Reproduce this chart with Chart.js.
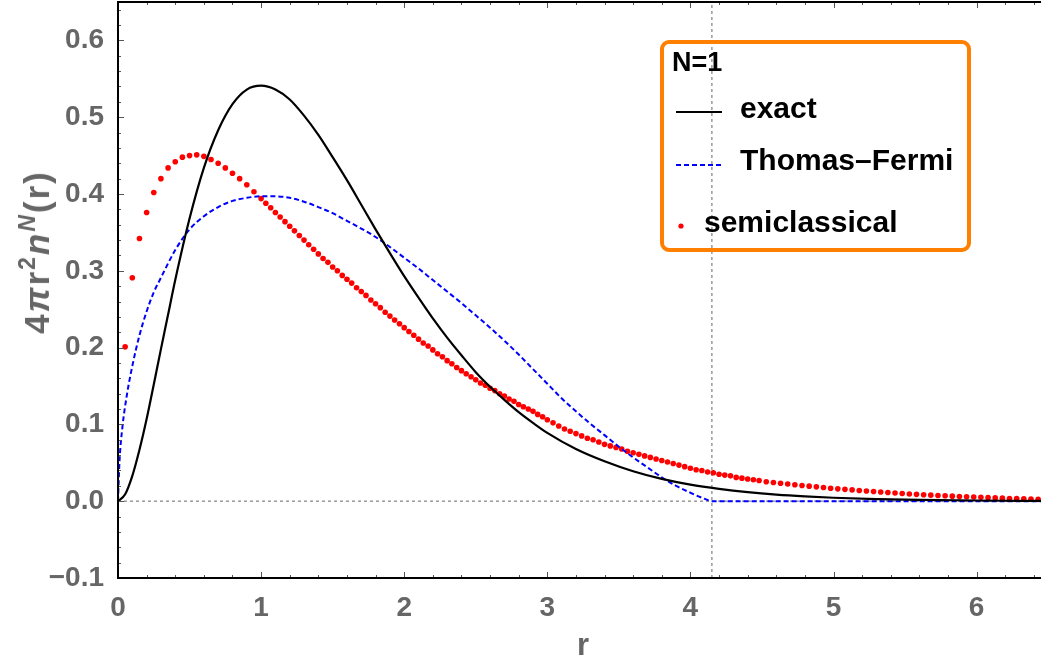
<!DOCTYPE html>
<html>
<head>
<meta charset="utf-8">
<script src="https://cdn.jsdelivr.net/npm/chart.js@4.4.1/dist/chart.umd.min.js"></script>
<style>
html,body{margin:0;padding:0;background:#fff;}
#wrap{position:relative;width:1041px;height:659px;overflow:hidden;font-family:"Liberation Sans",Arial,sans-serif;}
#c{position:absolute;left:0;top:0;}
.ytitle{position:absolute;left:35px;top:252px;transform:translate(-50%,-50%) rotate(-90deg);font-weight:bold;font-size:35px;color:#666;white-space:nowrap;line-height:1;letter-spacing:2px;}
.ytitle sup{font-size:23px;vertical-align:14px;}
.xtitle{position:absolute;left:583px;top:629px;transform:translateX(-50%);font-weight:bold;font-size:31px;color:#666;line-height:1;}
.lgbox{position:absolute;left:660px;top:40px;width:311px;height:212px;box-sizing:border-box;border:4px solid #ff8000;border-radius:9px;}
.lt{position:absolute;font-weight:bold;color:#000;white-space:nowrap;line-height:1;}
svg.sym{position:absolute;}
</style>
</head>
<body>
<div id="wrap">
<canvas id="c" width="1041" height="659"></canvas>
<div class="ytitle">4<i>π</i>r<sup>2</sup><i>n</i><sup><i>N</i></sup>(r)</div>
<div class="xtitle">r</div>
<div class="lgbox"></div>
<div class="lt" style="left:672px;top:49px;font-size:27px;">N=1</div>
<svg class="sym" style="left:676px;top:108px" width="48" height="8"><line x1="0" y1="4" x2="46" y2="4" stroke="#000" stroke-width="2"/></svg>
<div class="lt" style="left:740px;top:93px;font-size:30px;">exact</div>
<svg class="sym" style="left:676px;top:161px" width="48" height="8"><line x1="0" y1="4" x2="46" y2="4" stroke="#0000ff" stroke-width="2" stroke-dasharray="5,3"/></svg>
<div class="lt" style="left:740px;top:145px;font-size:30px;">Thomas–Fermi</div>
<svg class="sym" style="left:676px;top:221px" width="10" height="10"><circle cx="5" cy="5" r="2.6" fill="#ff0000"/></svg>
<div class="lt" style="left:704px;top:207px;font-size:30px;">semiclassical</div>
</div>
<script>
// ---- data ----
const xTickVals = [0, 1, 2, 3, 4, 5, 6];
const yTickVals = [-0.1, 0, 0.1, 0.2, 0.3, 0.4, 0.5, 0.6];

const exactR = [0,0.05,0.1,0.15,0.2,0.25,0.3,0.35,0.4,0.5,0.6,0.7,0.8,0.9,1.0,1.1,1.2,1.3,1.4,1.5,1.6,1.7,1.8,1.9,2.0,2.1,2.2,2.3,2.4,2.5,2.6,2.7,2.8,2.9,3.0,3.2,3.4,3.6,3.8,4.0,4.2,4.4,4.6,4.8,5.0,5.3,5.6,6.0,6.45];
const exactVal = [0,0.009,0.033,0.067,0.107,0.152,0.198,0.243,0.288,0.368,0.434,0.483,0.517,0.536,0.541,0.536,0.523,0.502,0.477,0.448,0.418,0.386,0.354,0.323,0.293,0.265,0.238,0.213,0.190,0.168,0.149,0.132,0.116,0.102,0.089,0.068,0.052,0.039,0.029,0.0215,0.016,0.0117,0.0085,0.0062,0.0045,0.0028,0.0017,0.0009,0.0004];

const tfR = [0,0.01,0.03,0.06,0.1,0.15,0.2,0.25,0.3,0.4,0.5,0.6,0.7,0.8,0.9,1.0,1.1,1.2,1.3,1.4,1.5,1.6,1.7,1.8,1.9,2.0,2.1,2.2,2.3,2.4,2.5,2.6,2.7,2.8,2.9,3.0,3.1,3.2,3.3,3.4,3.5,3.6,3.7,3.8,3.9,4.0,4.1,4.15,5.0,6.45];
const tfVal = [0,0.05,0.095,0.136,0.176,0.216,0.247,0.272,0.291,0.327,0.354,0.371,0.383,0.391,0.395,0.397,0.397,0.395,0.390,0.383,0.375,0.365,0.355,0.344,0.331,0.317,0.303,0.288,0.273,0.258,0.242,0.226,0.209,0.191,0.172,0.153,0.134,0.117,0.101,0.086,0.071,0.057,0.044,0.031,0.020,0.011,0.003,0,0,0];

const semiR = [0.05,0.10,0.15,0.20,0.25,0.30,0.35,0.40,0.45,0.50,0.55,0.60,0.65,0.70,0.75,0.80,0.85,0.90,0.95,1.00,
1.033,1.067,1.1,1.133,1.167,1.2,1.233,1.267,1.3,1.333,1.367,1.4,1.433,1.467,1.5,1.533,1.567,1.6,1.633,1.667,1.7,1.733,1.767,1.8,1.833,1.867,1.9,1.933,1.967,2.0,2.033,2.067,2.1,2.133,2.167,2.2,2.233,2.267,2.3,2.333,2.367,2.4,2.433,2.467,2.5,2.533,2.567,2.6,2.633,2.667,2.7,2.733,2.767,2.8,2.833,2.867,2.9,2.933,2.967,3.0,
3.04,3.08,3.12,3.16,3.2,3.24,3.28,3.32,3.36,3.4,3.44,3.48,3.52,3.56,3.6,3.64,3.68,3.72,3.76,3.8,3.84,3.88,3.92,3.96,4.0,4.04,4.08,4.12,4.16,4.2,4.24,4.28,4.32,4.36,4.4,4.44,4.48,
4.53,4.58,4.63,4.68,4.73,4.78,4.83,4.88,4.93,4.98,5.03,5.08,5.13,5.18,5.23,5.28,5.33,5.38,5.43,5.48,5.53,5.58,5.63,5.68,5.73,5.78,5.83,5.88,5.93,5.98,6.03,6.08,6.13,6.18,6.23,6.28,6.33,6.38,6.43];
const semiVal = [0.201,0.291,0.342,0.376,0.402,0.420,0.434,0.442,0.448,0.450,0.451,0.449,0.445,0.440,0.434,0.427,0.420,0.412,0.403,0.394,
0.388,0.382,0.376,0.370,0.364,0.358,0.352,0.346,0.340,0.334,0.328,0.322,0.316,0.311,0.305,0.300,0.294,0.289,0.284,0.278,0.273,0.268,0.262,0.257,0.252,0.246,0.241,0.236,0.231,0.226,0.221,0.216,0.211,0.206,0.202,0.197,0.192,0.188,0.183,0.179,0.174,0.170,0.166,0.162,0.158,0.154,0.151,0.147,0.144,0.140,0.137,0.133,0.130,0.126,0.123,0.120,0.117,0.113,0.110,0.106,
0.102,0.098,0.094,0.091,0.088,0.085,0.082,0.080,0.077,0.074,0.072,0.070,0.068,0.065,0.063,0.061,0.059,0.057,0.055,0.053,0.051,0.049,0.047,0.045,0.043,0.041,0.040,0.038,0.037,0.035,0.034,0.033,0.031,0.030,0.029,0.028,0.027,
0.0254,0.0244,0.0234,0.0224,0.0214,0.0205,0.0196,0.0187,0.0178,0.0169,0.0161,0.0154,0.0147,0.0140,0.0133,0.0126,0.0120,0.0113,0.0106,0.0100,0.0094,0.0089,0.0084,0.0079,0.0075,0.0070,0.0066,0.0062,0.0058,0.0054,0.0050,0.0046,0.0043,0.0040,0.0036,0.0033,0.0030,0.0027,0.0024];

const zeroLevel = [0];
const cutoffR = [4.15];
const xRange = [0, 6.45];
const yRange = [-0.1, 0.65];

// ---- helpers ----
const pts = (xs, ys) => xs.slice(0, Math.min(xs.length, ys.length)).map((x, i) => ({x: x, y: ys[i]}));

const framePlugin = {
  id: 'frame',
  afterDraw(chart) {
    const {ctx, chartArea: a, scales: {x, y}} = chart;
    ctx.save();
    ctx.strokeStyle = '#555';
    ctx.lineWidth = 1;
    ctx.beginPath();
    for (let k = 0; k * 0.2 <= xRange[1] + 1e-9; k++) {
      const v = k * 0.2;
      const px = Math.round(x.getPixelForValue(v)) + 0.5;
      const L = (k % 5 === 0) ? 6 : 3;
      ctx.moveTo(px, a.bottom); ctx.lineTo(px, a.bottom - L);
      ctx.moveTo(px, a.top); ctx.lineTo(px, a.top + L);
    }
    for (let k = -5; k <= 32; k++) {
      const v = k * 0.02;
      const py = Math.round(y.getPixelForValue(v)) + 0.5;
      const L = (k % 5 === 0) ? 6 : 3;
      ctx.moveTo(a.left, py); ctx.lineTo(a.left + L, py);
    }
    ctx.stroke();
    ctx.strokeStyle = '#000';
    ctx.lineWidth = 2;
    ctx.beginPath();
    ctx.moveTo(a.right + 2, a.top);
    ctx.lineTo(a.left, a.top);
    ctx.lineTo(a.left, a.bottom);
    ctx.lineTo(a.right + 2, a.bottom);
    ctx.stroke();
    ctx.restore();
  }
};

const tickFont = {family: '"Liberation Sans", Arial, sans-serif', size: 28, weight: 'bold'};

new Chart(document.getElementById('c'), {
  type: 'scatter',
  data: {
    datasets: [
      {
        label: 'exact',
        data: pts(exactR, exactVal),
        showLine: true, borderColor: '#000', borderWidth: 2.2,
        pointRadius: 0, cubicInterpolationMode: 'monotone', fill: false
      },
      {
        label: 'Thomas–Fermi',
        data: pts(tfR, tfVal),
        showLine: true, borderColor: '#0000ff', borderWidth: 2, borderDash: [5, 3],
        pointRadius: 0, cubicInterpolationMode: 'monotone', fill: false
      },
      {
        label: 'semiclassical',
        data: pts(semiR, semiVal),
        showLine: false, pointRadius: 2.8, pointBackgroundColor: '#ff0000',
        pointBorderWidth: 0, borderColor: '#ff0000'
      },
      {
        label: 'zero',
        data: [{x: xRange[0], y: zeroLevel[0]}, {x: xRange[1], y: zeroLevel[0]}],
        showLine: true, borderColor: '#9a9a9a', borderWidth: 1.5, borderDash: [3, 3], pointRadius: 0
      },
      {
        label: 'cutoff',
        data: [{x: cutoffR[0], y: yRange[0]}, {x: cutoffR[0], y: yRange[1]}],
        showLine: true, borderColor: '#9a9a9a', borderWidth: 1.5, borderDash: [3, 3], pointRadius: 0
      }
    ]
  },
  options: {
    responsive: false,
    animation: false,
    devicePixelRatio: 1,
    layout: {autoPadding: false, padding: {top: 2, right: 0, bottom: 0, left: 0}},
    plugins: {legend: {display: false}, tooltip: {enabled: false}, title: {display: false}},
    scales: {
      x: {
        type: 'linear', min: xRange[0], max: xRange[1],
        grid: {display: false}, border: {display: false},
        afterBuildTicks: s => { s.ticks = xTickVals.map(v => ({value: v})); },
        afterFit: s => { s.height = 81; s.paddingLeft = 0; s.paddingRight = 0; },
        ticks: {font: tickFont, color: '#666', padding: 5, maxRotation: 0, autoSkip: false,
                callback: v => String(v)}
      },
      y: {
        type: 'linear', min: yRange[0], max: yRange[1],
        grid: {display: false}, border: {display: false},
        afterBuildTicks: s => { s.ticks = yTickVals.map(v => ({value: v})); },
        afterFit: s => { s.width = 118; s.paddingTop = 0; s.paddingBottom = 0; },
        ticks: {font: tickFont, color: '#666', padding: 6, autoSkip: false,
                callback: v => (v < 0 ? '\u2212' : '') + Math.abs(v).toFixed(1)}
      }
    }
  },
  plugins: [framePlugin]
});
</script>
</body>
</html>
